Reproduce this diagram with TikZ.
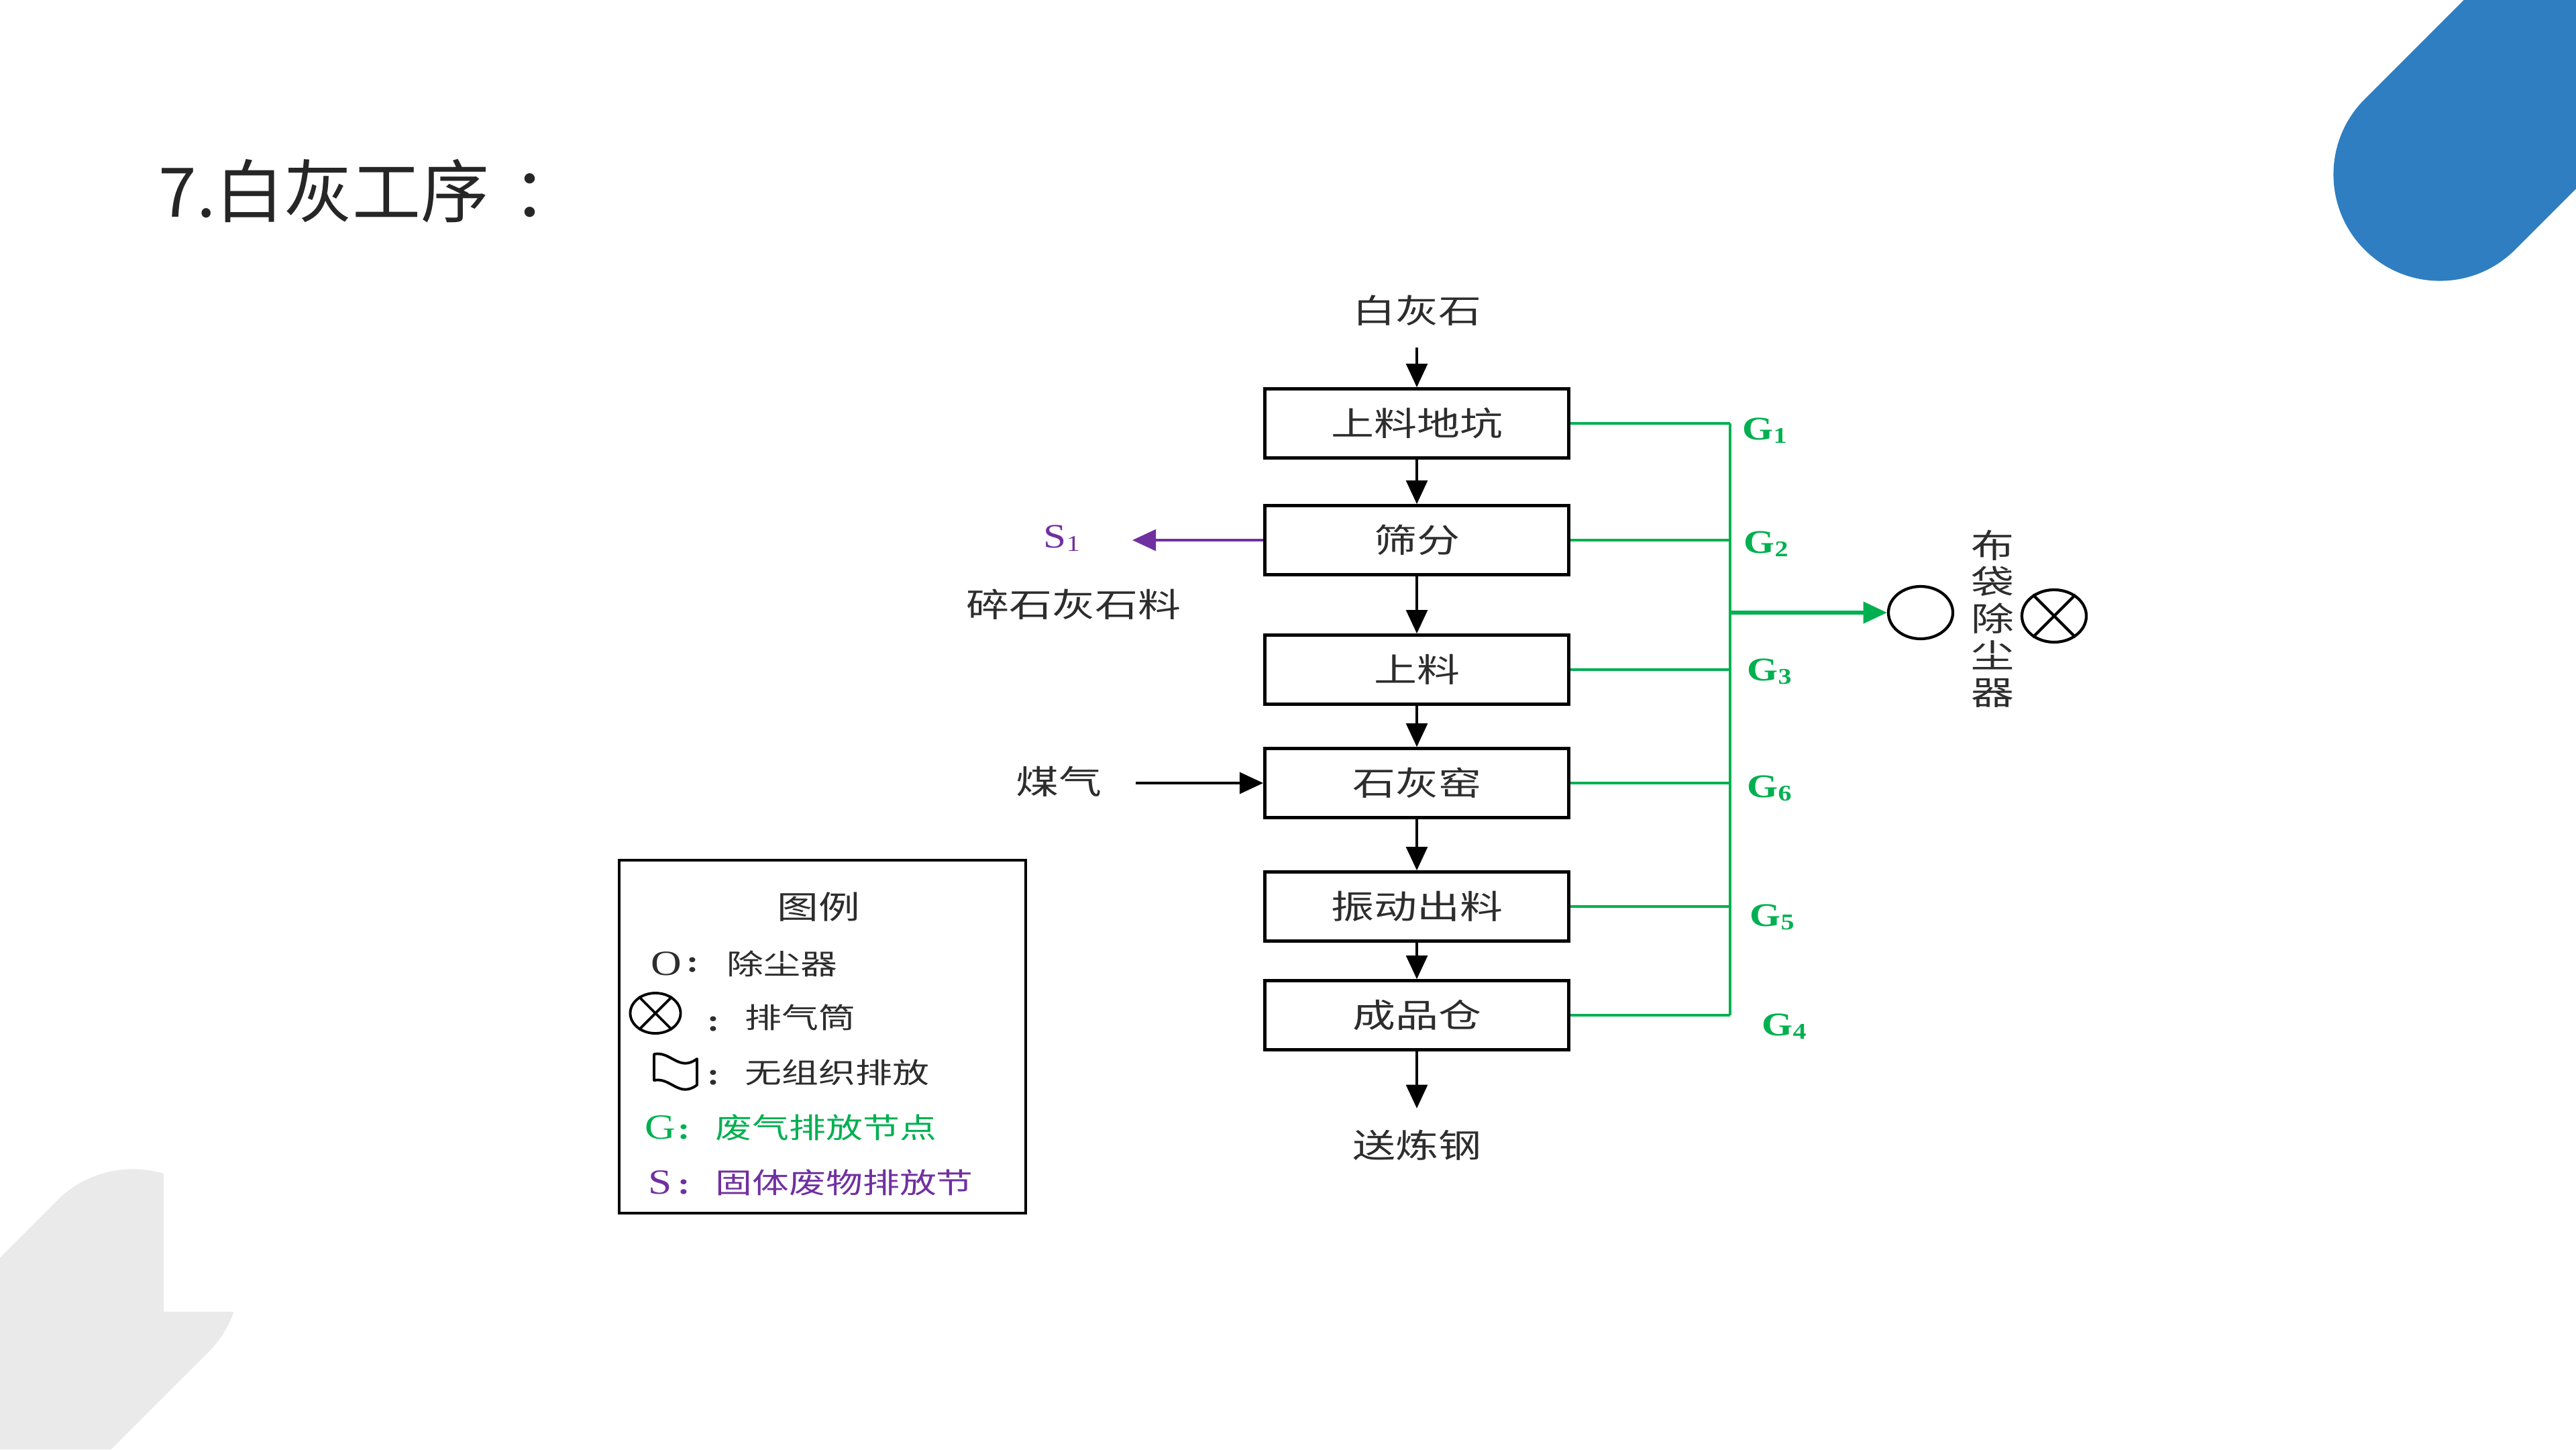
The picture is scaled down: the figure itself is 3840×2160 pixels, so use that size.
\documentclass[tikz,border=0pt]{standalone}
\usepackage{fontspec}
\setmainfont{Noto Sans CJK SC}
\newfontfamily\dgfont[FakeStretch=1.3]{Noto Sans CJK SC}
\newfontfamily\tmsfont[FakeStretch=1.2]{Liberation Serif}
\usetikzlibrary{arrows.meta,shapes.geometric}
\definecolor{gline}{RGB}{0,176,80}
\definecolor{pline}{RGB}{112,48,160}
\definecolor{txt}{RGB}{45,45,45}
\definecolor{titlec}{RGB}{38,38,38}
\definecolor{blueband}{RGB}{46,126,193}
\definecolor{grayband}{RGB}{234,234,234}
\newcommand\dgtxt{\dgfont\fontsize{14pt}{16pt}\selectfont}
\newcommand\lgtxt{\dgfont\fontsize{12pt}{14pt}\selectfont}
\newcommand\gfont{\tmsfont\bfseries\fontsize{14pt}{16pt}\selectfont}
\newcommand\sfontx{\tmsfont\fontsize{14.5pt}{16pt}\selectfont}
\newcommand\gsub[1]{\raisebox{-1.5pt}{\fontsize{9.5pt}{10pt}\selectfont #1}}
\begin{document}
\begin{tikzpicture}[x=0.01cm,y=-0.01cm,
  pbox/.style={draw=black, line width=1.3pt, minimum width=4.53cm, minimum height=1.03cm, inner sep=0pt, font=\dgtxt, text=txt},
  lbl/.style={inner sep=0pt, font=\dgtxt, text=txt},
  endlbl/.style={inner xsep=0pt, inner ysep=9pt, font=\dgtxt, text=txt},
  glab/.style={anchor=base west, inner sep=0pt, font=\gfont, text=gline},
  arr/.style={-{Triangle[length=10pt,width=9pt]}, line width=1.15pt, black},
  gl/.style={draw=gline, line width=1.1pt},
  garr/.style={draw=gline, line width=1.5pt, -{Triangle[length=10pt,width=9pt]}},
  parr/.style={draw=pline, line width=1.1pt, -{Triangle[length=10pt,width=9pt]}},
  dust/.style={draw=black, ellipse, line width=1.2pt, minimum width=0.96cm, minimum height=0.78cm, inner sep=0pt},
  lgt/.style={anchor=west, inner sep=0pt, font=\lgtxt, text=txt},
  lgcolon/.style={inner sep=0pt, font=\tmsfont\bfseries\fontsize{13pt}{14pt}\selectfont},
  lglat/.style={inner sep=0pt, font=\tmsfont\fontsize{15pt}{16pt}\selectfont}
]
\useasboundingbox (0,0) rectangle (3840,2160);
\fill[white] (0,0) rectangle (3840,2160);

% background decorations
\draw[blueband, line width=3.17cm, line cap=round] (3637,260) -- (4437,-540);
\begin{scope}
  \clip (0,0) -- (244,0) -- (244,1955) -- (3840,1955) -- (3840,2160) -- (0,2160) -- cycle;
  \draw[grayband, line width=3.19cm, line cap=round] (198,1902) -- (-602,2702);
\end{scope}

% title
\node[anchor=base west, inner sep=0pt, text=titlec, font=\fontsize{29pt}{32pt}\selectfont] (title) at (236,323) {7.白灰工序\kern10pt：};

% process boxes
\node[endlbl] (n0) at (2112,463) {白灰石};
\node[pbox] (b1) at (2112,631) {上料地坑};
\node[pbox] (b2) at (2112,805) {筛分};
\node[pbox] (b3) at (2112,998) {上料};
\node[pbox] (b4) at (2112,1167) {石灰窑};
\node[pbox] (b5) at (2112,1351) {振动出料};
\node[pbox] (b6) at (2112,1513) {成品仓};
\node[endlbl] (n7) at (2112,1707) {送炼钢};

\draw[arr] (n0) -- (b1);
\draw[arr] (b1) -- (b2);
\draw[arr] (b2) -- (b3);
\draw[arr] (b3) -- (b4);
\draw[arr] (b4) -- (b5);
\draw[arr] (b5) -- (b6);
\draw[arr] (b6) -- (n7);

% green collection bus
\coordinate (bus) at (2579,0);
\foreach \b in {b1,b2,b3,b4,b5,b6} \draw[gl] (\b.east) -- (\b.east -| bus);
\draw[gl] (b1.east -| bus) -- (b6.east -| bus);
\coordinate (tap) at (2579,913);
\node[dust] (dc) at (2863,913) {};
\node[dust] (stack) at (3062,918) {};
\draw[black, line width=1.2pt] (stack.45) -- (stack.225) (stack.135) -- (stack.315);
\draw[garr] (tap) -- (dc.west);
\node[lbl, align=center, font=\dgfont\fontsize{14pt}{15.6pt}\selectfont] (bagf) at (2970,922) {布\\袋\\除\\尘\\器};

\node[glab] (g1) at (2597,655) {G\gsub{1}};
\node[glab] (g2) at (2599,824) {G\gsub{2}};
\node[glab] (g3) at (2604,1014) {G\gsub{3}};
\node[glab] (g6) at (2604,1188) {G\gsub{6}};
\node[glab] (g5) at (2608,1380) {G\gsub{5}};
\node[glab] (g4) at (2626,1543) {G\gsub{4}};

% left side
\coordinate (s1end) at (1688,805);
\draw[parr] (b2.west) -- (s1end);
\node[anchor=base west, inner sep=0pt, font=\sfontx, text=pline] (s1) at (1555,816) {S\gsub{1}};
\node[lbl] (scrap) at (1600,901) {碎石灰石料};
\node[lbl] (gas) at (1578,1165) {煤气};
\coordinate (gasstart) at (1693,1167);
\draw[arr] (gasstart) -- (b4.west);

% legend
\node[draw=black, line width=1.2pt, minimum width=6.06cm, minimum height=5.26cm, inner sep=0pt] (legend) at (1226,1545) {};
\node[lbl, font=\dgfont\fontsize{13.5pt}{15pt}\selectfont] (lgtitle) at (1220,1351) {图例};
\node[lglat, text=txt] (lo) at (993,1436) {O};
\node[lgcolon, text=txt] (c1) at (1033,1438) {:};
\node[lgt] (t1) at (1083,1436) {除尘器};
\node[draw=black, ellipse, line width=1.1pt, minimum width=0.75cm, minimum height=0.6cm, inner sep=0pt] (lx) at (977,1510) {};
\draw[black, line width=1.1pt] (lx.45) -- (lx.225) (lx.135) -- (lx.315);
\node[lgcolon, text=txt] (c2) at (1064,1526) {:};
\node[lgt] (t2) at (1110,1516) {排气筒};
\draw[black, line width=1.1pt, line join=round] (975,1571) .. controls (1000,1566) and (1012,1598) .. (1039,1578) -- (1039,1617) .. controls (1012,1637) and (1000,1605) .. (975,1610) -- cycle;
\node[lgcolon, text=txt] (c3) at (1064,1606) {:};
\node[lgt] (t3) at (1110,1598) {无组织排放};
\node[lglat, text=gline] (lg) at (984,1680) {G};
\node[lgcolon, text=gline] (c4) at (1020,1687) {:};
\node[lgt, text=gline] (t4) at (1066,1680) {废气排放节点};
\node[lglat, text=pline] (ls) at (984,1762) {S};
\node[lgcolon, text=pline] (c5) at (1020,1769) {:};
\node[lgt, text=pline] (t5) at (1066,1762) {固体废物排放节};
\end{tikzpicture}
\end{document}
